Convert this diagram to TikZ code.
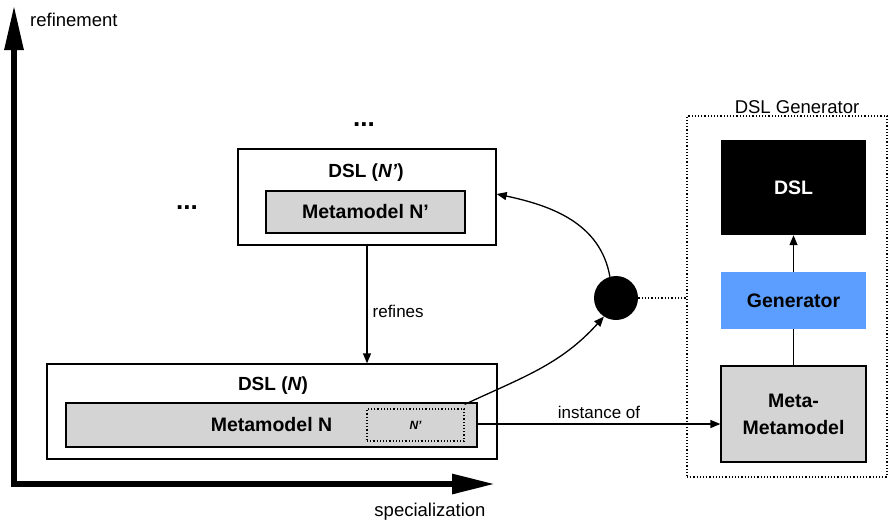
\documentclass[tikz,border=0pt]{standalone}
\usepackage{fontspec}
\setmainfont{Liberation Sans}
\usetikzlibrary{arrows.meta,calc}
\definecolor{boxgray}{HTML}{D4D4D4}
\definecolor{genblue}{HTML}{5B9EFF}
\tikzset{
  lbl/.style={font=\fontsize{17}{20}\selectfont, inner sep=1pt},
  axlbl/.style={font=\fontsize{18.5}{22}\selectfont, inner sep=0pt},
  ttl/.style={font=\bfseries\fontsize{19}{22}\selectfont, inner sep=0pt},
  ellip/.style={font=\bfseries\fontsize{26}{28}\selectfont, inner sep=0pt},
  outer/.style={draw, line width=1.3pt, rectangle, inner sep=0pt},
  graybox/.style={draw, line width=1.3pt, fill=boxgray, rectangle, inner sep=0pt,
    font=\bfseries\fontsize{19.5}{27}\selectfont, align=center},
  dotbox/.style={draw, dotted, line width=1.2pt, rectangle, inner sep=0pt},
  conn/.style={line width=1.3pt, -{Triangle[length=10pt,width=8pt]}},
  plain/.style={line width=1.3pt},
  axis/.style={line width=6pt, line join=miter,
    {Triangle[length=45pt,width=18pt]}-{Triangle[length=43pt,width=19pt]}}
}
\begin{document}
\begin{tikzpicture}[x=1pt,y=-1pt]
\useasboundingbox (0,0) rectangle (890,525);

% axes
\coordinate (ytop) at (14,5);
\coordinate (orig) at (14,484);
\coordinate (xend) at (495,484);
\draw[axis] (ytop) -- (orig) -- (xend);
\node[axlbl, anchor=west] (reflbl) at (30,20) {refinement};
\node[axlbl] (speclbl) at (430,512) {specialization};

% ellipses marking further levels
\node[ellip] (dotsTop) at (364,125) {...};
\node[ellip] (dotsLeft) at (187,208) {...};

% refined DSL
\node[outer, minimum width=258pt, minimum height=96pt] (dslNp) at (367,197) {};
\node[ttl] (dslNpT) at (366,173) {DSL (\textit{N’})};
\node[graybox, minimum width=199pt, minimum height=42pt] (mmNp) at (365.5,212) {Metamodel N’};

% base DSL
\node[outer, minimum width=450pt, minimum height=95pt] (dslN) at (272,411.5) {};
\node[ttl] (dslNT) at (273,386) {DSL (\textit{N})};
\node[graybox, minimum width=411pt, minimum height=44pt] (mmN) at (271.5,425) {Metamodel N};
\node[dotbox, minimum width=97pt, minimum height=32pt,
      font=\bfseries\itshape\fontsize{12}{14}\selectfont] (np) at (415.5,425) {N’};

% generator part
\node[dotbox, minimum width=200pt, minimum height=361pt] (genbox) at (787,296.5) {};
\node[axlbl, anchor=base] (genlbl) at (797,113) {DSL Generator};
\node[rectangle, fill=black, text=white, minimum width=145pt, minimum height=95pt,
      font=\bfseries\fontsize{19.5}{22}\selectfont] (dsl) at (793.5,187.5) {DSL};
\node[rectangle, fill=genblue, minimum width=145pt, minimum height=57pt,
      font=\bfseries\fontsize{19.5}{22}\selectfont] (genr) at (793.5,300.5) {Generator};
\node[graybox, minimum width=145pt, minimum height=96pt] (meta) at (793.5,414) {Meta-\\Metamodel};

% junction dot
\node[circle, fill=black, minimum size=44pt, inner sep=0pt] (dot) at (616,298) {};

% connectors
\draw[conn] (dslNp.south) -- (dslNp.south |- dslN.north)
  node[lbl, pos=0.56, anchor=west, xshift=4pt] (reflab) {refines};
\draw[conn] ([yshift=1pt]mmN.east) -- ([yshift=1pt]mmN.east -| meta.west)
  node[lbl, midway, anchor=south, yshift=4pt] (instlab) {instance of};
\draw[conn] (genr.north) -- (dsl.south);
\draw[plain] (meta.north) -- (genr.south);
\draw[plain, dotted] (dot.east) -- (dot.east -| genbox.west);
\draw[conn] ([yshift=4pt]np.north east) to[out=25, in=228] (dot.237);
\draw[conn] (dot.106) to[out=100, in=-12] ([yshift=3pt]dslNp.east);
\end{tikzpicture}
\end{document}
